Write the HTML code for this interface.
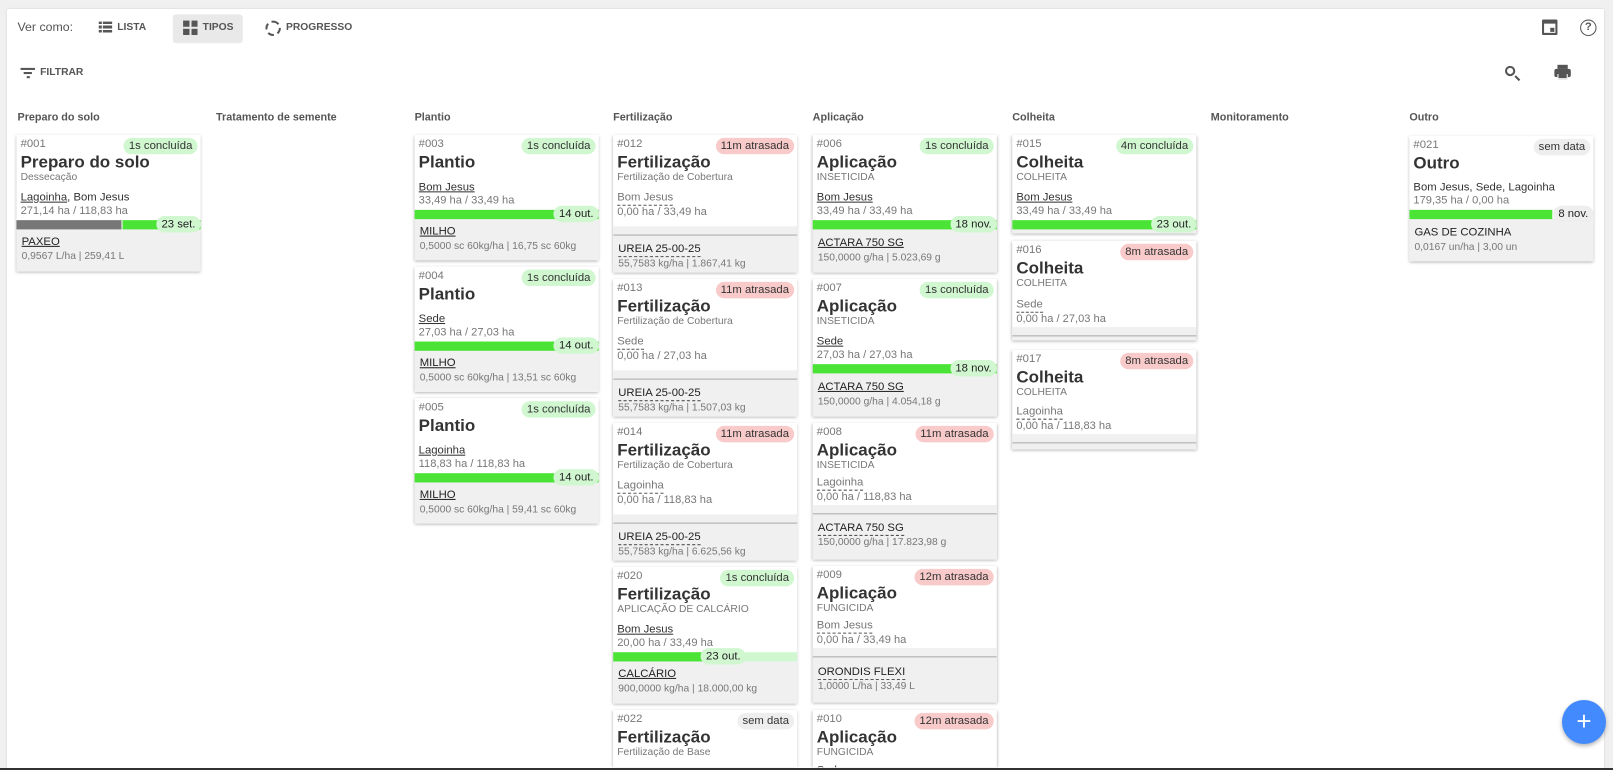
<!DOCTYPE html>
<html><head><meta charset="utf-8"><style>
*{box-sizing:border-box;margin:0;padding:0}
html{width:1613px;height:770px;overflow:hidden}
body{width:1613px;height:770px;background:#f0f0f0;font-family:"Liberation Sans",sans-serif;position:relative;overflow:hidden;color:#333}
#p{position:absolute;left:7px;top:9px;width:1597px;height:761px;background:#fff;box-shadow:0 0 2px rgba(0,0,0,.15)}
#w{position:absolute;left:0;top:0;width:1568px;height:746px;overflow:hidden;transform:scale(1.0287);transform-origin:0 0}
.a{position:absolute;white-space:nowrap}
.tb{font-size:10px;font-weight:bold;color:#555}
.h{position:absolute;top:108px;font-size:10.5px;font-weight:bold;color:#555}
.c{position:absolute;width:179px;background:#fff;box-shadow:0 1px 3px rgba(0,0,0,.35);overflow:hidden}
.c>*{position:absolute;white-space:nowrap}
.id{left:4px;top:2px;font-size:11px;color:#777;line-height:14px}
.b{right:3px;top:3px;height:16px;line-height:16px;padding:0 5px;border-radius:8px;font-size:11px;color:#333}
.ok{background:#d1f7d1}.late{background:#f9caca}.nd{background:#eee}
.t{left:4px;top:17px;font-size:16.5px;font-weight:bold;color:#333;line-height:20px}
.s{left:4px;top:36px;font-size:10px;color:#777;line-height:12px}
.l{left:4px;font-size:11px;color:#333;line-height:14px}
.u{text-decoration:underline}
.d{color:#777;border-bottom:1px dashed #555;line-height:13px}
.ar{left:4px;font-size:10.8px;color:#777;line-height:12px}
.bar{left:0;right:0;height:9px;background:#4be436}
.pill{right:0;height:16px;line-height:16px;padding:0 5px;border-radius:8px;font-size:11px;background:#d1f7d1;color:#222}
.g{left:0;right:0;bottom:0;background:#f0f0f0}
.ln{left:0;right:0;height:1px;background:#aaa}
.pr{left:5px;font-size:11px;color:#222;line-height:14px}
.dt{left:5px;font-size:10px;color:#777;line-height:12px}
</style></head><body>
<div id="p"></div>
<div id="w">
<div class="a" style="left:17px;top:19px;font-size:12px;color:#555">Ver como:</div>
<div class="a" style="left:96px;top:21px;width:13px;height:11px;background:repeating-linear-gradient(#555 0 2.5px,transparent 2.5px 4px)"></div>
<div class="a" style="left:96px;top:21px;width:4px;height:11px;border-right:1px solid #fff"></div>
<div class="a tb" style="left:114px;top:21px">LISTA</div>
<div class="a" style="left:168px;top:14px;width:68px;height:28px;background:#e9e9e9;border-radius:3px"></div>
<div class="a" style="left:178px;top:20px;width:14px;height:14px;background:linear-gradient(90deg,#555 6px,transparent 6px 8px,#555 8px)"></div>
<div class="a" style="left:178px;top:26px;width:14px;height:2px;background:#e9e9e9"></div>
<div class="a tb" style="left:197px;top:21px">TIPOS</div>
<div class="a" style="left:258px;top:20px;width:15px;height:15px;border:2px dashed #555;border-radius:50%"></div>
<div class="a tb" style="left:278px;top:21px">PROGRESSO</div>
<div class="a" style="left:20px;top:66px;width:14px;height:2px;background:#555"></div>
<div class="a" style="left:23px;top:70px;width:8px;height:2px;background:#555"></div>
<div class="a" style="left:26px;top:74px;width:3px;height:2px;background:#555"></div>
<div class="a tb" style="left:39px;top:65px">FILTRAR</div>
<div class="a" style="left:1499px;top:19px;width:15px;height:15px;border:2px solid #555;border-top-width:4px;border-radius:1px"></div>
<div class="a" style="left:1507px;top:27px;width:4px;height:4px;background:#555"></div>
<div class="a" style="left:1536px;top:19px;width:16px;height:16px;border:1.5px solid #555;border-radius:50%;font-size:11px;font-weight:bold;color:#555;text-align:center;line-height:13px">?</div>
<div class="a" style="left:1463px;top:64px;width:10px;height:10px;border:2px solid #555;border-radius:50%"></div>
<div class="a" style="left:1472px;top:75px;width:6px;height:2px;background:#555;transform:rotate(45deg)"></div>
<div class="a" style="left:1511px;top:67px;width:16px;height:8px;background:#555;border-radius:2px"></div>
<div class="a" style="left:1514px;top:63px;width:10px;height:4px;background:#555"></div>
<div class="a" style="left:1514px;top:72px;width:10px;height:5px;background:#555;border:1px solid #fff;border-top:none"></div>
<div class="h" style="left:17px">Preparo do solo</div>
<div class="h" style="left:210px">Tratamento de semente</div>
<div class="h" style="left:403px">Plantio</div>
<div class="h" style="left:596px">Fertilização</div>
<div class="h" style="left:790px">Aplicação</div>
<div class="h" style="left:984px">Colheita</div>
<div class="h" style="left:1177px">Monitoramento</div>
<div class="h" style="left:1370px">Outro</div>

<div class="c" style="left:16px;top:131px;height:133px">
<div class="id">#001</div><div class="b ok">1s concluída</div>
<div class="t">Preparo do solo</div><div class="s">Dessecação</div>
<div class="l" style="top:54px"><span class="u">Lagoinha</span>, Bom Jesus</div>
<div class="ar" style="top:68px">271,14 ha / 118,83 ha</div>
<div class="g" style="top:92px"></div>
<div class="bar" style="top:83px;background:linear-gradient(90deg,#777 0 102px,#fff 102px 103px,#4be436 103px)"></div>
<div class="pill" style="top:79px">23 set.</div>
<div class="pr u" style="top:97px">PAXEO</div><div class="dt" style="top:113px">0,9567 L/ha | 259,41 L</div>
</div>

<div class="c" style="left:403px;top:131px;height:122px">
<div class="id">#003</div><div class="b ok">1s concluída</div><div class="t">Plantio</div>
<div class="l u" style="top:44px">Bom Jesus</div><div class="ar" style="top:58px">33,49 ha / 33,49 ha</div>
<div class="g" style="top:81px"></div><div class="bar" style="top:73px"></div><div class="pill" style="top:69px">14 out.</div>
<div class="pr u" style="top:87px">MILHO</div><div class="dt" style="top:103px">0,5000 sc 60kg/ha | 16,75 sc 60kg</div>
</div>
<div class="c" style="left:403px;top:259px;height:122px">
<div class="id">#004</div><div class="b ok">1s concluída</div><div class="t">Plantio</div>
<div class="l u" style="top:44px">Sede</div><div class="ar" style="top:58px">27,03 ha / 27,03 ha</div>
<div class="g" style="top:81px"></div><div class="bar" style="top:73px"></div><div class="pill" style="top:69px">14 out.</div>
<div class="pr u" style="top:87px">MILHO</div><div class="dt" style="top:103px">0,5000 sc 60kg/ha | 13,51 sc 60kg</div>
</div>
<div class="c" style="left:403px;top:387px;height:122px">
<div class="id">#005</div><div class="b ok">1s concluída</div><div class="t">Plantio</div>
<div class="l u" style="top:44px">Lagoinha</div><div class="ar" style="top:58px">118,83 ha / 118,83 ha</div>
<div class="g" style="top:81px"></div><div class="bar" style="top:73px"></div><div class="pill" style="top:69px">14 out.</div>
<div class="pr u" style="top:87px">MILHO</div><div class="dt" style="top:103px">0,5000 sc 60kg/ha | 59,41 sc 60kg</div>
</div>

<div class="c" style="left:596px;top:131px;height:134px">
<div class="id">#012</div><div class="b late">11m atrasada</div><div class="t">Fertilização</div><div class="s">Fertilização de Cobertura</div>
<div class="l d" style="top:55px">Bom Jesus</div><div class="ar" style="top:69px">0,00 ha / 33,49 ha</div>
<div class="g" style="top:89px"></div><div class="ln" style="top:97px"></div>
<div class="pr d" style="top:104px">UREIA 25-00-25</div><div class="dt" style="top:120px">55,7583 kg/ha | 1.867,41 kg</div>
</div>
<div class="c" style="left:596px;top:271px;height:134px">
<div class="id">#013</div><div class="b late">11m atrasada</div><div class="t">Fertilização</div><div class="s">Fertilização de Cobertura</div>
<div class="l d" style="top:55px">Sede</div><div class="ar" style="top:69px">0,00 ha / 27,03 ha</div>
<div class="g" style="top:89px"></div><div class="ln" style="top:97px"></div>
<div class="pr d" style="top:104px">UREIA 25-00-25</div><div class="dt" style="top:120px">55,7583 kg/ha | 1.507,03 kg</div>
</div>
<div class="c" style="left:596px;top:411px;height:134px">
<div class="id">#014</div><div class="b late">11m atrasada</div><div class="t">Fertilização</div><div class="s">Fertilização de Cobertura</div>
<div class="l d" style="top:55px">Lagoinha</div><div class="ar" style="top:69px">0,00 ha / 118,83 ha</div>
<div class="g" style="top:89px"></div><div class="ln" style="top:97px"></div>
<div class="pr d" style="top:104px">UREIA 25-00-25</div><div class="dt" style="top:120px">55,7583 kg/ha | 6.625,56 kg</div>
</div>
<div class="c" style="left:596px;top:551px;height:133px">
<div class="id">#020</div><div class="b ok">1s concluída</div><div class="t">Fertilização</div><div class="s">APLICAÇÃO DE CALCÁRIO</div>
<div class="l u" style="top:54px">Bom Jesus</div><div class="ar" style="top:68px">20,00 ha / 33,49 ha</div>
<div class="g" style="top:92px"></div>
<div class="bar" style="top:83px;background:linear-gradient(90deg,#4be436 0 110px,#d1f7d1 110px)"></div>
<div class="pill" style="top:79px;right:50px">23 out.</div>
<div class="pr u" style="top:97px">CALCÁRIO</div><div class="dt" style="top:113px">900,0000 kg/ha | 18.000,00 kg</div>
</div>
<div class="c" style="left:596px;top:690px;height:56px">
<div class="id">#022</div><div class="b nd">sem data</div><div class="t">Fertilização</div><div class="s">Fertilização de Base</div>
<div class="l" style="top:54px">Bom Jesus</div>
</div>

<div class="c" style="left:790px;top:131px;height:134px">
<div class="id">#006</div><div class="b ok">1s concluída</div><div class="t">Aplicação</div><div class="s">INSETICIDA</div>
<div class="l u" style="top:54px">Bom Jesus</div><div class="ar" style="top:68px">33,49 ha / 33,49 ha</div>
<div class="g" style="top:92px"></div><div class="bar" style="top:83px"></div><div class="pill" style="top:79px">18 nov.</div>
<div class="pr u" style="top:98px">ACTARA 750 SG</div><div class="dt" style="top:114px">150,0000 g/ha | 5.023,69 g</div>
</div>
<div class="c" style="left:790px;top:271px;height:134px">
<div class="id">#007</div><div class="b ok">1s concluída</div><div class="t">Aplicação</div><div class="s">INSETICIDA</div>
<div class="l u" style="top:54px">Sede</div><div class="ar" style="top:68px">27,03 ha / 27,03 ha</div>
<div class="g" style="top:92px"></div><div class="bar" style="top:83px"></div><div class="pill" style="top:79px">18 nov.</div>
<div class="pr u" style="top:98px">ACTARA 750 SG</div><div class="dt" style="top:114px">150,0000 g/ha | 4.054,18 g</div>
</div>
<div class="c" style="left:790px;top:411px;height:133px">
<div class="id">#008</div><div class="b late">11m atrasada</div><div class="t">Aplicação</div><div class="s">INSETICIDA</div>
<div class="l d" style="top:52px">Lagoinha</div><div class="ar" style="top:66px">0,00 ha / 118,83 ha</div>
<div class="g" style="top:80px"></div><div class="ln" style="top:88px"></div>
<div class="pr d" style="top:95px">ACTARA 750 SG</div><div class="dt" style="top:111px">150,0000 g/ha | 17.823,98 g</div>
</div>
<div class="c" style="left:790px;top:550px;height:133px">
<div class="id">#009</div><div class="b late">12m atrasada</div><div class="t">Aplicação</div><div class="s">FUNGICIDA</div>
<div class="l d" style="top:52px">Bom Jesus</div><div class="ar" style="top:66px">0,00 ha / 33,49 ha</div>
<div class="g" style="top:80px"></div><div class="ln" style="top:88px"></div>
<div class="pr d" style="top:96px">ORONDIS FLEXI</div><div class="dt" style="top:112px">1,0000 L/ha | 33,49 L</div>
</div>
<div class="c" style="left:790px;top:690px;height:56px">
<div class="id">#010</div><div class="b late">12m atrasada</div><div class="t">Aplicação</div><div class="s">FUNGICIDA</div>
<div class="l" style="top:52px">Sede</div>
</div>

<div class="c" style="left:984px;top:131px;height:96px">
<div class="id">#015</div><div class="b ok">4m concluída</div><div class="t">Colheita</div><div class="s">COLHEITA</div>
<div class="l u" style="top:54px">Bom Jesus</div><div class="ar" style="top:68px">33,49 ha / 33,49 ha</div>
<div class="g" style="top:92px"></div><div class="bar" style="top:83px"></div><div class="pill" style="top:79px">23 out.</div>
</div>
<div class="c" style="left:984px;top:234px;height:97px">
<div class="id">#016</div><div class="b late">8m atrasada</div><div class="t">Colheita</div><div class="s">COLHEITA</div>
<div class="l d" style="top:56px">Sede</div><div class="ar" style="top:70px">0,00 ha / 27,03 ha</div>
<div class="g" style="top:84px"></div><div class="ln" style="top:92px"></div>
</div>
<div class="c" style="left:984px;top:340px;height:97px">
<div class="id">#017</div><div class="b late">8m atrasada</div><div class="t">Colheita</div><div class="s">COLHEITA</div>
<div class="l d" style="top:54px">Lagoinha</div><div class="ar" style="top:68px">0,00 ha / 118,83 ha</div>
<div class="g" style="top:82px"></div><div class="ln" style="top:90px"></div>
</div>

<div class="c" style="left:1370px;top:132px;height:122px">
<div class="id">#021</div><div class="b nd">sem data</div><div class="t">Outro</div>
<div class="l" style="top:43px">Bom Jesus, Sede, Lagoinha</div><div class="ar" style="top:57px">179,35 ha / 0,00 ha</div>
<div class="g" style="top:80px"></div><div class="bar" style="top:72px;right:40px"></div><div class="pill" style="top:68px;background:#eee">8 nov.</div>
<div class="pr" style="top:87px">GAS DE COZINHA</div><div class="dt" style="top:103px">0,0167 un/ha | 3,00 un</div>
</div>
</div>

<div class="a" style="left:1562px;top:700px;width:44px;height:44px;border-radius:50%;background:#448aff;box-shadow:0 2px 4px rgba(0,0,0,.3);color:#fff;font-size:26px;text-align:center;line-height:42px">+</div>
<div class="a" style="left:0;top:768px;width:1613px;height:2px;background:#333"></div>
</body></html>
